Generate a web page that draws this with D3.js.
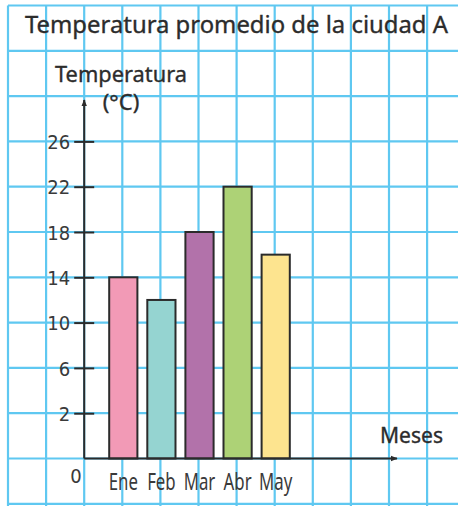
<!DOCTYPE html>
<html>
<head>
<meta charset="utf-8">
<script src="https://cdn.jsdelivr.net/npm/d3@7"></script>
<style>
  body { margin: 0; background: #fff; }
  svg { display: block; }
  text.heavy { stroke: #2c2c2c; stroke-width: 0.35px; }
</style>
</head>
<body>
<svg id="chart" width="458" height="506"></svg>
<script>
// data
const months = ["Ene", "Feb", "Mar", "Abr", "May"];
const temps = [14, 12, 18, 22, 16];
const barColors = ["#f29ab6", "#95d4d1", "#b272aa", "#add276", "#fde48f"];
const yTicks = [2, 6, 10, 14, 18, 22, 26];
const title = "Temperatura promedio de la ciudad A";

let W = 458, H = 506
let gx = 38.1, gy = 45.3     // squared paper cell
let left0 = 8, top0 = 5.5

let svg = d3.select('#chart')

// the squared paper
let grid = svg.append('g').attr('stroke', '#5fc8f1').attr('stroke-width', 2.2)
grid.selectAll('.v').data(d3.range(0, 12)).enter().append('line')
    .attr('x1', d => left0 + d * gx).attr('x2', d => left0 + d * gx)
    .attr('y1', top0).attr('y2', H)
grid.selectAll('.h').data(d3.range(0, 12)).enter().append('line')
    .attr('x1', left0).attr('x2', W)
    .attr('y1', d => top0 + d * gy).attr('y2', d => top0 + d * gy)

let baseY = top0 + 10 * gy
let axisX = left0 + 2 * gx

// y: 0 -> 2 takes one square, then 4 degrees per square
let y = d3.scaleLinear()
    .domain([0, 2, 30])
    .range([baseY, baseY - gy, baseY - 8 * gy])

let x = d3.scaleBand()
    .domain(months)
    .range([left0 + 2.5 * gx + 1, left0 + 7.5 * gx + 1])
    .paddingInner(0.26)
    .paddingOuter(0.13)

let textColor = '#2c2c2c'

// title
svg.append('text').attr('class', 'heavy')
    .attr('x', 25).attr('y', 33)
    .attr('textLength', 423).attr('lengthAdjust', 'spacingAndGlyphs')
    .style('font-family', 'Noto Sans').style('font-size', '24px')
    .style('fill', textColor)
    .text(title)

// bars
svg.selectAll('.bar')
    .data(temps)
    .enter().append('rect')
    .attr('x', (d, i) => x(months[i]))
    .attr('y', d => y(d))
    .attr('width', x.bandwidth())
    .attr('height', d => baseY - y(d))
    .attr('fill', (d, i) => barColors[i])
    .attr('stroke', '#2b2b2b')
    .attr('stroke-width', 2)

// arrow heads
svg.append('defs').append('marker')
    .attr('id', 'arrow')
    .attr('viewBox', '0 0 10 10')
    .attr('refX', 9).attr('refY', 5)
    .attr('markerWidth', 7).attr('markerHeight', 7)
    .attr('markerUnits', 'userSpaceOnUse')
    .attr('orient', 'auto')
    .append('path').attr('d', 'M0,1 L10,5 L0,9 Z').attr('fill', '#2b2b2b')

svg.append('line')
    .attr('x1', axisX).attr('x2', axisX)
    .attr('y1', baseY).attr('y2', 100)
    .attr('stroke', '#2b2b2b').attr('stroke-width', 2)
    .attr('marker-end', 'url(#arrow)')

svg.append('line')
    .attr('x1', axisX).attr('x2', 397)
    .attr('y1', baseY).attr('y2', baseY)
    .attr('stroke', '#2b2b2b').attr('stroke-width', 2)
    .attr('marker-end', 'url(#arrow)')

// y axis ticks
let yAxis = svg.append('g')
    .attr('transform', `translate(${axisX},0)`)
    .call(d3.axisLeft(y).tickValues(yTicks).tickSize(10).tickPadding(5))
yAxis.select('.domain').remove()
yAxis.selectAll('.tick line').attr('x1', 10).attr('x2', -10)
    .attr('stroke', '#2b2b2b').attr('stroke-width', 2)
yAxis.selectAll('text')
    .style('font-family', 'DejaVu Sans Condensed').style('font-size', '20px')
    .style('fill', '#3a3a3a').attr('dy', '0.36em').attr('x', -14)

// month labels
let xAxis = svg.append('g')
    .attr('transform', `translate(0,${baseY})`)
    .call(d3.axisBottom(x).tickSize(0))
xAxis.select('.domain').remove()
xAxis.selectAll('text')
    .attr('y', 32).attr('dy', 0)
    .attr('transform', 'scale(0.7,1)')
    .style('font-family', 'Noto Sans').style('font-size', '24px')
    .style('fill', '#3a3a3a')

// zero, axis titles
svg.append('text')
    .attr('x', 76).attr('y', 483).attr('text-anchor', 'middle')
    .style('font-family', 'DejaVu Sans Condensed').style('font-size', '20px')
    .style('fill', '#3a3a3a').text('0')

svg.append('text').attr('class', 'heavy')
    .attr('x', 55).attr('y', 82)
    .attr('textLength', 132).attr('lengthAdjust', 'spacingAndGlyphs')
    .style('font-family', 'Noto Sans').style('font-size', '22px')
    .style('fill', textColor).text('Temperatura')

svg.append('text').attr('class', 'heavy')
    .attr('x', 121).attr('y', 110).attr('text-anchor', 'middle')
    .style('font-family', 'Noto Sans').style('font-size', '22px')
    .style('fill', textColor).text('(°C)')

svg.append('text').attr('class', 'heavy')
    .attr('x', 380).attr('y', 443)
    .attr('textLength', 63).attr('lengthAdjust', 'spacingAndGlyphs')
    .style('font-family', 'Noto Sans').style('font-size', '22px')
    .style('fill', textColor).text('Meses')
</script>
</body>
</html>
